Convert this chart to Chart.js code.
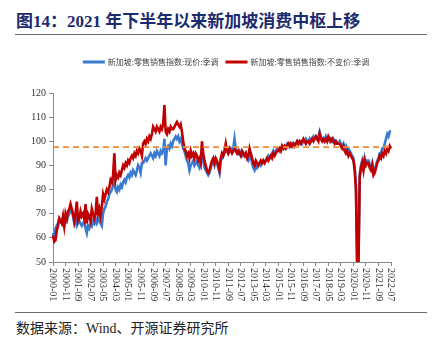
<!DOCTYPE html>
<html>
<head>
<meta charset="utf-8">
<script src="https://cdn.jsdelivr.net/npm/chart.js@4"></script>
<style>
    body { margin: 0; width: 437px; height: 343px; background: #fff; position: relative; overflow: hidden; }
    .title { position: absolute; left: 16px; top: 7px; font: bold 17px "Liberation Serif", "Noto Sans CJK SC", serif; color: #1c2b6e; white-space: nowrap; }
    .rule { position: absolute; left: 15px; width: 412px; height: 0; border-top: 1.5px solid #6d6d6d; }
    .source { position: absolute; left: 16px; top: 317px; font: 14px "Liberation Serif", "Noto Sans CJK SC", serif; color: #222; white-space: nowrap; }
    #wrap { position: absolute; left: 0; top: 40px; width: 437px; height: 270px; }
</style>
</head>
<body>
<div class="title">图14：2021 年下半年以来新加坡消费中枢上移</div>
<div class="rule" style="top:34px"></div>
<div id="wrap"><canvas id="chart"></canvas></div>
<div class="rule" style="top:312px"></div>
<div class="source">数据来源：Wind、开源证券研究所</div>

<script>
// ==========================================
// 데이터 (2000-01 ~ 2022-07, 월별)
// ==========================================
const startYear = 2000;
const seriesNames = ["新加坡:零售销售指数:现价:季调", "新加坡:零售销售指数:不变价:季调"];
const seriesColors = ['#3a7bd2', '#c00000'];

// 현가 (blue)
const nominalIdx = [
    62, 60, 64, 65, 66, 68, 67, 66, 68, 65, 68, 67,
    69, 70, 72, 71, 69, 66, 68, 65, 66, 67, 66, 65,
    66, 67, 64, 62, 65, 64, 66, 65, 67, 66, 68, 66,
    67, 68, 66, 65, 70, 72, 73, 75, 76, 78, 79, 80,
    82, 84, 80, 79, 81, 80, 82, 81, 83, 84, 83, 85,
    86, 85, 87, 86, 88, 87, 86, 88, 90, 89, 87, 91,
    91, 92, 93, 92, 93, 94, 95, 94, 93, 95, 94, 96,
    95, 94, 96, 95, 96, 101, 90, 97, 98, 97, 99, 98,
    100, 101, 102, 101, 102, 100, 101, 99, 97, 96, 94, 92,
    91, 88, 90, 91, 92, 90, 91, 92, 90, 89, 91, 96,
    92, 89, 88, 87, 86, 87, 89, 91, 92, 90, 92, 91,
    89, 87, 92, 93, 94, 95, 97, 96, 95, 96, 97, 96,
    97, 101, 97, 96, 95, 96, 95, 94, 95, 94, 95, 93,
    92, 93, 94, 91, 89, 88, 90, 89, 90, 91, 90, 91,
    92, 91, 92, 93, 94, 93, 94, 95, 96, 95, 96, 97,
    97, 96, 97, 98, 97, 98, 98, 99, 98, 99, 98, 99,
    98, 99, 99, 100, 99, 100, 100, 99, 100, 100, 101, 100,
    100, 101, 100, 101, 102, 101, 102, 101, 102, 104, 102, 101,
    101, 100, 102, 101, 101, 100, 101, 100, 101, 100, 100, 99,
    99, 100, 99, 98, 99, 97, 98, 96, 97, 96, 95, 94,
    93, 89, 82, 48, 49, 86, 90, 92, 89, 93, 91, 92,
    92, 90, 89, 91, 88, 88, 90, 92, 93, 95, 95, 97,
    97, 99, 101, 103, 102, 104, 104
];

// 불변가 (red)
const realIdx = [
    61, 58.5, 59, 63, 65, 68, 67, 66, 69, 65, 70, 68,
    71, 72, 74, 72, 70, 67, 70, 75, 67, 68, 71, 69,
    70, 68, 74, 66, 70, 69, 67, 72, 70, 68, 70, 77,
    70, 72, 69, 73, 78, 76, 78, 80, 79, 81, 84, 83,
    86, 95, 84, 86, 85, 87, 86, 88, 90, 89, 91, 90,
    92, 91, 93, 94, 93, 95, 94, 96, 95, 97, 96, 94,
    99, 100, 99, 101, 100, 102, 101, 103, 106, 105, 104, 106,
    105, 104, 106, 105, 107, 115, 104, 103, 105, 104, 106, 105,
    105, 106, 107, 108, 107, 106, 107, 104, 100, 97, 96, 94,
    95, 93, 96, 94, 95, 93, 95, 94, 92, 93, 91, 100,
    95, 92, 90, 88, 87, 88, 90, 92, 93, 91, 93, 92,
    90, 88, 93, 95, 94, 96, 99, 96, 95, 97, 96, 95,
    96, 97, 96, 95, 96, 95, 94, 96, 95, 94, 95, 93,
    94, 97, 95, 93, 91, 90, 92, 91, 90, 91, 92, 91,
    92, 91, 92, 93, 92, 93, 94, 93, 95, 94, 95, 96,
    96, 97, 96, 98, 97, 98, 97, 98, 99, 98, 99, 98,
    99, 98, 99, 100, 99, 100, 99, 100, 101, 100, 99, 100,
    100, 99, 100, 101, 100, 101, 102, 101, 100, 103, 101, 100,
    101, 100, 101, 100, 102, 101, 100, 101, 100, 99, 100, 99,
    99, 99, 98, 97, 98, 96, 95, 96, 94, 95, 94, 93,
    92, 88, 80, 47, 48, 85, 89, 91, 88, 92, 90, 91,
    91, 89, 88, 90, 86, 87, 89, 91, 92, 94, 93, 95,
    94, 96, 95, 97, 96, 98, 97
];

const tickLabels = [
    "2000-01", "2000-11", "2001-09", "2002-07", "2003-05", "2004-03", "2005-01",
    "2005-11", "2006-09", "2007-07", "2008-05", "2009-03", "2010-01", "2010-11",
    "2011-09", "2012-07", "2013-05", "2014-03", "2015-01", "2015-11", "2016-09",
    "2017-07", "2018-05", "2019-03", "2020-01", "2020-11", "2021-09", "2022-07"
];

const centralLevel = 97.6;   // 점선 (중추 수준)

// 월 라벨 생성
const months = nominalIdx.map((_, i) => {
    const y = startYear + Math.floor(i / 12);
    const m = (i % 12) + 1;
    return `${y}-${m < 10 ? '0' + m : m}`;
});

// ==========================================
// 플러그인: 점선, 세로 x 라벨, 범례
// ==========================================
const centralLine = {
    id: 'centralLine',
    afterDatasetsDraw(chart) {
        const { ctx, chartArea, scales } = chart;
        const y = scales.y.getPixelForValue(centralLevel);
        ctx.save();
        ctx.strokeStyle = '#f28a35';
        ctx.lineWidth = 1.6;
        ctx.setLineDash([6, 4]);
        ctx.beginPath();
        ctx.moveTo(chartArea.left, y);
        ctx.lineTo(chartArea.right, y);
        ctx.stroke();
        ctx.restore();
    }
};

const verticalLabels = {
    id: 'verticalLabels',
    afterDraw(chart) {
        const { ctx, scales } = chart;
        const x = scales.x;
        ctx.save();
        ctx.fillStyle = '#333';
        ctx.font = '10px "Liberation Serif", serif';
        ctx.textAlign = 'left';
        ctx.textBaseline = 'middle';
        x.ticks.forEach(t => {
            const px = x.getPixelForValue(t.value);
            ctx.save();
            ctx.translate(px, x.top + 6);
            ctx.rotate(Math.PI / 2);
            ctx.fillText(months[t.value], 0, 0);
            ctx.restore();
        });
        ctx.restore();
    }
};

// 범례는 직접 그림 (순서/위치 고정)
const topLegend = {
    id: 'topLegend',
    afterDraw(chart) {
        const { ctx, chartArea } = chart;
        const sw = 22, gapText = 3, gapItem = 7, y = 22;
        ctx.save();
        ctx.font = '8px "Noto Sans CJK SC", sans-serif';
        ctx.textBaseline = 'middle';
        ctx.textAlign = 'left';
        const widths = seriesNames.map(n => ctx.measureText(n).width);
        const total = widths.reduce((a, w) => a + sw + gapText + w, 0) + gapItem;
        let x = 226 - total / 2;
        seriesNames.forEach((n, i) => {
            ctx.fillStyle = seriesColors[i];
            ctx.fillRect(x, y - 1.5, sw, 3);
            ctx.fillStyle = '#444';
            ctx.fillText(n, x + sw + gapText, y);
            x += sw + gapText + widths[i] + gapItem;
        });
        ctx.restore();
    }
};

// ==========================================
// Chart.js 초기화
// ==========================================
new Chart(document.getElementById('chart'), {
    type: 'line',
    data: {
        labels: months,
        datasets: [
            { label: seriesNames[0], data: nominalIdx, borderColor: seriesColors[0], borderWidth: 2.6, order: 1 },
            { label: seriesNames[1], data: realIdx, borderColor: seriesColors[1], borderWidth: 2.6, order: 0 }
        ]
    },
    options: {
        animation: false,
        responsive: true,
        maintainAspectRatio: false,
        layout: { padding: { left: 0, right: 46, top: 53, bottom: 0 } },
        elements: { point: { radius: 0 }, line: { tension: 0 } },
        plugins: {
            legend: { display: false },
            tooltip: { enabled: false }
        },
        scales: {
            x: {
                afterBuildTicks: s => { s.ticks = s.ticks.filter(t => tickLabels.includes(months[t.value])); },
                afterFit: s => { s.height = 48; },
                ticks: { display: false, autoSkip: false },
                grid: { drawOnChartArea: false, color: '#888', tickLength: 4 },
                border: { color: '#888', width: 1 }
            },
            y: {
                min: 50, max: 120,
                afterFit: s => { s.width = 53; },
                ticks: { stepSize: 10, color: '#333', padding: 3, font: { family: '"Liberation Serif", serif', size: 10 } },
                grid: { drawOnChartArea: false, color: '#888', tickLength: 4 },
                border: { color: '#888', width: 1 }
            }
        }
    },
    plugins: [centralLine, verticalLabels, topLegend]
});
</script>
</body>
</html>
